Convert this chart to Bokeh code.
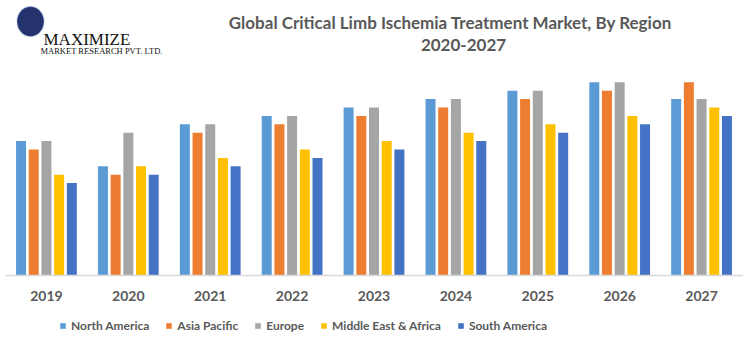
import math
from bokeh.plotting import figure
from bokeh.models import ColumnDataSource, Range1d, Legend, LegendItem, Label, PolyAnnotation
from bokeh.core.properties import value
from bokeh.embed import file_html
from bokeh.resources import INLINE

years = ["2019", "2020", "2021", "2022", "2023", "2024", "2025", "2026", "2027"]
north_america = [16, 13, 18, 19, 20, 21, 22, 23, 21]
asia_pacific = [15, 12, 17, 18, 19, 20, 21, 22, 23]
europe = [16, 17, 18, 19, 20, 21, 22, 23, 21]
middle_east_africa = [12, 13, 14, 15, 16, 17, 18, 19, 20]
south_america = [11, 12, 13, 14, 15, 16, 17, 18, 19]

series_names = ["North America", "Asia Pacific", "Europe", "Middle East & Africa", "South America"]
series_values = [north_america, asia_pacific, europe, middle_east_africa, south_america]
colors = ["#5B9BD5", "#ED7D31", "#A5A5A5", "#FFC000", "#4472C4"]

FONT = "Lato"
TXT = "#595959"
W, H = 753, 349
PLOT_L, PLOT_R, BASE_Y = 5, 742, 275     # canvas pixels of the category area and baseline
PX_PER_UNIT = 8.4

n = len(years)
xs = list(range(n))
u = (PLOT_R - PLOT_L) / n
x_range = Range1d(-0.5 - PLOT_L / u, n - 0.5 + (W - PLOT_R) / u)
y_range = Range1d(-(H - BASE_Y) / PX_PER_UNIT, BASE_Y / PX_PER_UNIT)

p = figure(width=W, height=H, output_backend="svg", toolbar_location=None,
           x_range=x_range, y_range=y_range, x_axis_location=None, y_axis_location=None,
           min_border=0)
p.outline_line_color = None
p.xgrid.visible = False
p.ygrid.visible = False
p.background_fill_color = "white"
p.border_fill_color = "white"

offsets = [-0.31, -0.155, 0.0, 0.155, 0.31]
renderers = []
for vals, off, col in zip(series_values, offsets, colors):
    src = ColumnDataSource(dict(x=[x + off for x in xs], top=vals))
    r = p.vbar(x="x", top="top", width=0.122, bottom=0, source=src,
               fill_color=col, line_color=None)
    renderers.append(r)

# category axis (baseline + labels)
p.segment(x0=[-0.5], y0=[0], x1=[n - 0.5], y1=[0], line_color="#D9D9D9", line_width=1.5)
p.text(x=xs, y=[0] * n, text=years, y_offset=20, text_align="center",
       text_baseline="middle", text_font=value(FONT), text_font_style="bold",
       text_font_size="14px", text_color=TXT)

legend = Legend(items=[LegendItem(label=nm, renderers=[r]) for nm, r in zip(series_names, renderers)],
                orientation="horizontal", location=(59, 16), glyph_width=7, glyph_height=7,
                label_standoff=5, spacing=16, padding=0, margin=0,
                label_text_font=FONT, label_text_font_style="bold",
                label_text_font_size="12px", label_text_color=TXT,
                border_line_color=None, background_fill_alpha=0, label_height=14)
p.add_layout(legend, "center")


def lab(xc, yc, text, **kw):
    p.add_layout(Label(x=xc, y=H - yc, x_units="screen", y_units="screen", text=text, **kw))


# title
lab(450, 22, "Global Critical Limb Ischemia Treatment Market, By Region",
    text_align="center", text_baseline="middle", text_font=FONT,
    text_font_style="bold", text_font_size="17px", text_color=TXT)
lab(463, 44, "2020-2027", text_align="center", text_baseline="middle",
    text_font=FONT, text_font_style="bold", text_font_size="17px", text_color=TXT)

# logo (decorative)
cx, cy, rad = 30, H - 21, 15
p.add_layout(PolyAnnotation(xs=[cx + 0.9 * rad * math.cos(t / 28 * 2 * math.pi) for t in range(28)],
                            ys=[cy + rad * math.sin(t / 28 * 2 * math.pi) for t in range(28)],
                            xs_units="screen", ys_units="screen",
                            fill_color="#24336E", fill_alpha=1, line_color="#8FA3D6",
                            line_width=1.5))
lab(43, 39, "MAXIMIZE", text_font="Liberation Serif", text_font_size="17px",
    text_color="#111111", text_baseline="middle")
lab(40, 50, "MARKET RESEARCH PVT. LTD.", text_font="Liberation Serif",
    text_font_size="8.5px", text_color="#111111", text_baseline="middle")

open("out.html", "w").write(file_html(p, INLINE))
